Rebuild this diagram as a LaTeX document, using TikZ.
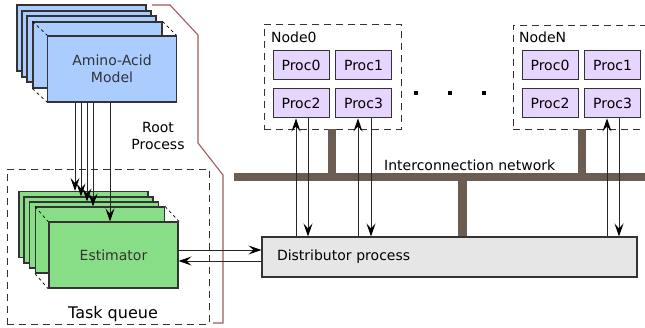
\documentclass[tikz,border=0pt]{standalone}
\usepackage{fontspec}
\setmainfont{DejaVu Sans}
\usetikzlibrary{arrows.meta}
\definecolor{bluebox}{HTML}{AACCFF}
\definecolor{greenbox}{HTML}{87DE87}
\definecolor{procbox}{HTML}{E5D5FF}
\definecolor{distbox}{HTML}{E6E6E6}
\definecolor{netcol}{HTML}{6C5D53}
\definecolor{rootcol}{HTML}{A05A5A}
\definecolor{txtgray}{HTML}{333333}
\tikzset{
  stackbox/.style={draw=txtgray, line width=1.1pt, minimum width=129pt, minimum height=66pt, inner sep=0pt, font=\fontsize{14}{17.5}\selectfont, text=txtgray, align=center},
  procnode/.style={draw=txtgray, line width=1pt, fill=procbox, minimum width=56pt, minimum height=29pt, inner sep=0pt, font=\fontsize{14}{17}\selectfont},
  groupbox/.style={draw=black!80, line width=0.8pt, dash pattern=on 7pt off 5pt},
  hint/.style={draw=black, line width=0.7pt, dash pattern=on 3pt off 3pt},
  lbl/.style={inner sep=0pt, font=\fontsize{14}{17.5}\selectfont},
  conn/.style={draw=black!85, line width=0.9pt},
  tip/.style={-{Stealth[length=13pt,width=9pt,inset=5pt,black]}},
  net/.style={fill=netcol, draw=none},
}
\begin{document}
\begin{tikzpicture}[x=1pt,y=-1pt]
\useasboundingbox (0,0) rectangle (645,328);
\clip (0,0) rectangle (645,328);
% amino-acid stack
\node[stackbox, fill=bluebox] (a1) at (81.5,38) {};
\node[stackbox, fill=bluebox] (a2) at (86.5,44) {};
\node[stackbox, fill=bluebox] (a3) at (91.5,49) {};
\node[stackbox, fill=bluebox] (a4) at (97.5,55) {};
\draw[hint] (a4.north west) -- ++(15,14) coordinate (h1);
\draw[hint] (a4.north east) -- ++(14,14) coordinate (h2);
\draw[hint] (a4.south west) -- ++(15,14) coordinate (h3);
\node[stackbox, fill=bluebox] (am) at (112,69) {Amino-Acid\\Model};
% task queue
\node[groupbox, minimum width=202pt, minimum height=155pt, inner sep=0pt] (tq) at (108,246.5) {};
\node[lbl, font=\fontsize{16}{19}\selectfont] (tql) at (113,314) {Task queue};
% estimator stack
\node[stackbox, fill=greenbox] (g1) at (83.5,224.5) {};
\node[stackbox, fill=greenbox] (g2) at (88.5,230) {};
\node[stackbox, fill=greenbox] (g3) at (94,235) {};
\node[stackbox, fill=greenbox] (g4) at (100,240) {};
\draw[hint] (g4.north west) -- ++(13,15) coordinate (k1);
\draw[hint] (g4.north east) -- ++(14,15) coordinate (k2);
\draw[hint] (g4.south west) -- ++(13,15) coordinate (k3);
\node[stackbox, fill=greenbox] (est) at (113.5,255) {Estimator};
% root process
\node[lbl, align=center] (root) at (158,136) {Root\\Process};
\coordinate (r0) at (152,5);
\coordinate (r1) at (170,5);
\coordinate (r2) at (198,35);
\coordinate (r3) at (198,143);
\coordinate (r4) at (223,175);
\coordinate (r5) at (223,323);
\coordinate (r6) at (213,323);
\draw[rootcol, line width=1.1pt] (r0) -- (r1) -- (r2) -- (r3) -- (r4) -- (r5) -- (r6);
% amino -> estimator arrows
\draw[conn, tip] (am.south -| 75,0) -- (g1.north -| 75,0);
\draw[conn, tip] (am.south -| 81,0) -- (g2.north -| 81,0);
\draw[conn, tip] (am.south -| 87,0) -- (g3.north -| 87,0);
\draw[conn, tip] (am.south -| 93,0) -- (g4.north -| 93,0);
\draw[conn, tip] (am.south -| 110,0) -- (est.north -| 110,0);
% Node0
\node[groupbox, minimum width=137pt, minimum height=105pt, inner sep=0pt] (n0) at (332.5,76.5) {};
\node[lbl, anchor=west] (n0l) at (271,37) {Node0};
\node[procnode] (n0p0) at (301,65.5) {Proc0};
\node[procnode] (n0p1) at (363.5,65.5) {Proc1};
\node[procnode] (n0p2) at (301,103.5) {Proc2};
\node[procnode] (n0p3) at (363.5,103.5) {Proc3};
% NodeN
\node[groupbox, minimum width=147pt, minimum height=104pt, inner sep=0pt] (nn) at (586.5,77) {};
\node[lbl, anchor=west] (nnl) at (519,37) {NodeN};
\node[procnode] (nnp0) at (550,65.5) {Proc0};
\node[procnode] (nnp1) at (612.5,65.5) {Proc1};
\node[procnode] (nnp2) at (550,103.5) {Proc2};
\node[procnode] (nnp3) at (612.5,103.5) {Proc3};
% dots
\node[fill=black, minimum size=3.5pt, inner sep=0pt] (d1) at (416,93) {};
\node[fill=black, minimum size=3.5pt, inner sep=0pt] (d2) at (450,93) {};
\node[fill=black, minimum size=3.5pt, inner sep=0pt] (d3) at (484,93) {};
% network
\node[net, minimum width=411pt, minimum height=8pt, inner sep=0pt] (bar) at (439.5,177) {};
\node[lbl, anchor=west] (netl) at (384,165) {Interconnection network};
\fill[netcol] (328,129) rectangle (336,173);
\fill[netcol] (578,129) rectangle (586,173);
\fill[netcol] (458,181) rectangle (467,237);
% distributor
\node[draw=txtgray, line width=1.1pt, fill=distbox, minimum width=375pt, minimum height=40pt, text width=345pt, inner xsep=15pt, inner ysep=0pt, align=left, font=\fontsize{14}{17}\selectfont] (dist) at (449.5,257) {Distributor process};
% node <-> distributor
\draw[conn, tip] (dist.north -| 296,0) -- (n0p2.south -| 296,0);
\draw[conn, tip] (n0p2.south -| 308,0) -- (dist.north -| 308,0);
\draw[conn, tip] (dist.north -| 358,0) -- (n0p3.south -| 358,0);
\draw[conn, tip] (n0p3.south -| 371,0) -- (dist.north -| 371,0);
\draw[conn, tip] (dist.north -| 607,0) -- (nnp3.south -| 607,0);
\draw[conn, tip] (nnp3.south -| 619,0) -- (dist.north -| 619,0);
% estimator <-> distributor
\draw[conn, tip] (est.east |- 0,250) -- (dist.west |- 0,250);
\draw[conn, tip] (dist.west |- 0,261) -- (est.east |- 0,261);
\end{tikzpicture}
\end{document}
